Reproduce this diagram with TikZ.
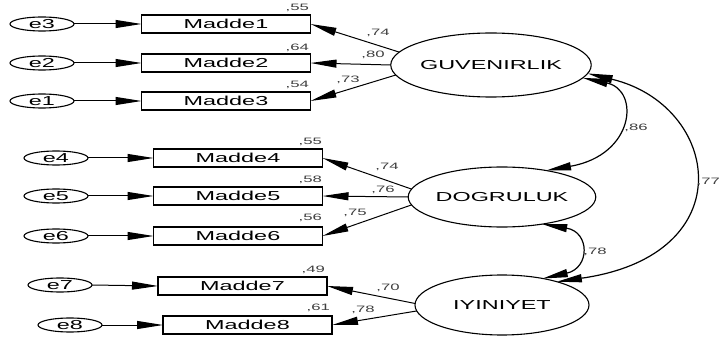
\documentclass[tikz,border=0pt]{standalone}
\usepackage{fontspec}
\usetikzlibrary{arrows.meta,shapes.geometric}
\newfontfamily\amosfont{Liberation Sans}[FakeStretch=1.8]
\begin{document}
\begin{tikzpicture}[x=1pt,y=-1pt,
  every node/.style={inner sep=0pt,outer sep=0pt},
  obs/.style={draw,line width=1.1pt,minimum width=169pt,minimum height=18pt,font=\amosfont\fontsize{13}{13}\selectfont},
  err/.style={draw,ellipse,line width=1.1pt,minimum width=64pt,minimum height=14pt,font=\amosfont\fontsize{13}{13}\selectfont},
  lat/.style={draw,ellipse,line width=1.1pt,font=\amosfont\fontsize{13}{13}\selectfont},
  num/.style={font=\amosfont\fontsize{9.3}{9.3}\selectfont,text=black!75},
  arr/.style={line width=1pt,-{Triangle[length=26pt,width=8pt]}},
  dbl/.style={line width=1.2pt,{Triangle[length=25pt,width=8pt]}-{Triangle[length=25pt,width=8pt]}}]
\useasboundingbox (0,0) rectangle (721,342);
% latent variables
\node[lat,minimum width=158pt,minimum height=64pt] (g) at (491,65) {GUVENIRLIK};
\node[lat,minimum width=174pt,minimum height=60pt] (d) at (502,197) {DOGRULUK};
\node[lat,minimum width=174pt,minimum height=60pt] (i) at (502,305) {IYINIYET};
% observed
\node[obs] (m1) at (226,24) {Madde1};
\node[obs] (m2) at (226,63) {Madde2};
\node[obs] (m3) at (226,101) {Madde3};
\node[obs] (m4) at (238,158) {Madde4};
\node[obs] (m5) at (238,196) {Madde5};
\node[obs] (m6) at (238,236) {Madde6};
\node[obs] (m7) at (242.5,286) {Madde7};
\node[obs] (m8) at (247.5,325) {Madde8};
% errors
\node[err] (e3) at (42,24) {e3};
\node[err] (e2) at (42,63) {e2};
\node[err] (e1) at (42,101) {e1};
\node[err] (e4) at (56,158) {e4};
\node[err] (e5) at (56,196) {e5};
\node[err] (e6) at (56,236) {e6};
\node[err] (e7) at (60,285) {e7};
\node[err] (e8) at (70,325) {e8};
% error arrows
\foreach \a/\b in {e3/m1,e2/m2,e1/m3,e4/m4,e5/m5,e6/m6,e7/m7,e8/m8}
  \draw[arr] (\a.east) -- (\b.west);
% loadings
\draw[arr] (g.172) -- (m1.east);
\draw[arr] (g.180) -- (m2.east);
\draw[arr] (g.186) -- (m3.east);
\draw[arr] (d.175) -- (m4.east);
\draw[arr] (d.180) -- (m5.east);
\draw[arr] (d.185) -- (m6.east);
\draw[arr] (i.179) -- (m7.east);
\draw[arr] (i.184) -- (m8.east);
% loading labels
\node[num] (l1) at (378,33) {,74};
\node[num] (l2) at (373,55) {,80};
\node[num] (l3) at (348,80) {,73};
\node[num] (l4) at (387,167) {,74};
\node[num] (l5) at (383,190) {,76};
\node[num] (l6) at (355,213) {,75};
\node[num] (l7) at (388,288) {,70};
\node[num] (l8) at (363,310) {,78};
% squared multiple correlations
\node[num,anchor=east] (r1) at (309,8) {,55};
\node[num,anchor=east] (r2) at (309,48) {,64};
\node[num,anchor=east] (r3) at (309,85) {,54};
\node[num,anchor=east] (r4) at (322,142) {,55};
\node[num,anchor=east] (r5) at (322,180) {,58};
\node[num,anchor=east] (r6) at (322,218) {,56};
\node[num,anchor=east] (r7) at (325,270) {,49};
\node[num,anchor=east] (r8) at (330,308) {,61};
% correlations
\draw[dbl] (g.-8.5) .. controls (640,90) and (635,155) .. (d.31);
\draw[dbl] (g.-5) .. controls (720,105) and (745,255) .. (i.23);
\draw[dbl] (d.-34) .. controls (590,232) and (590,268) .. (i.33);
\node[num] (c1) at (636,128) {,86};
\node[num,anchor=east] (c2) at (720,182) {,77};
\node[num] (c3) at (595,252) {,78};
\end{tikzpicture}
\end{document}
